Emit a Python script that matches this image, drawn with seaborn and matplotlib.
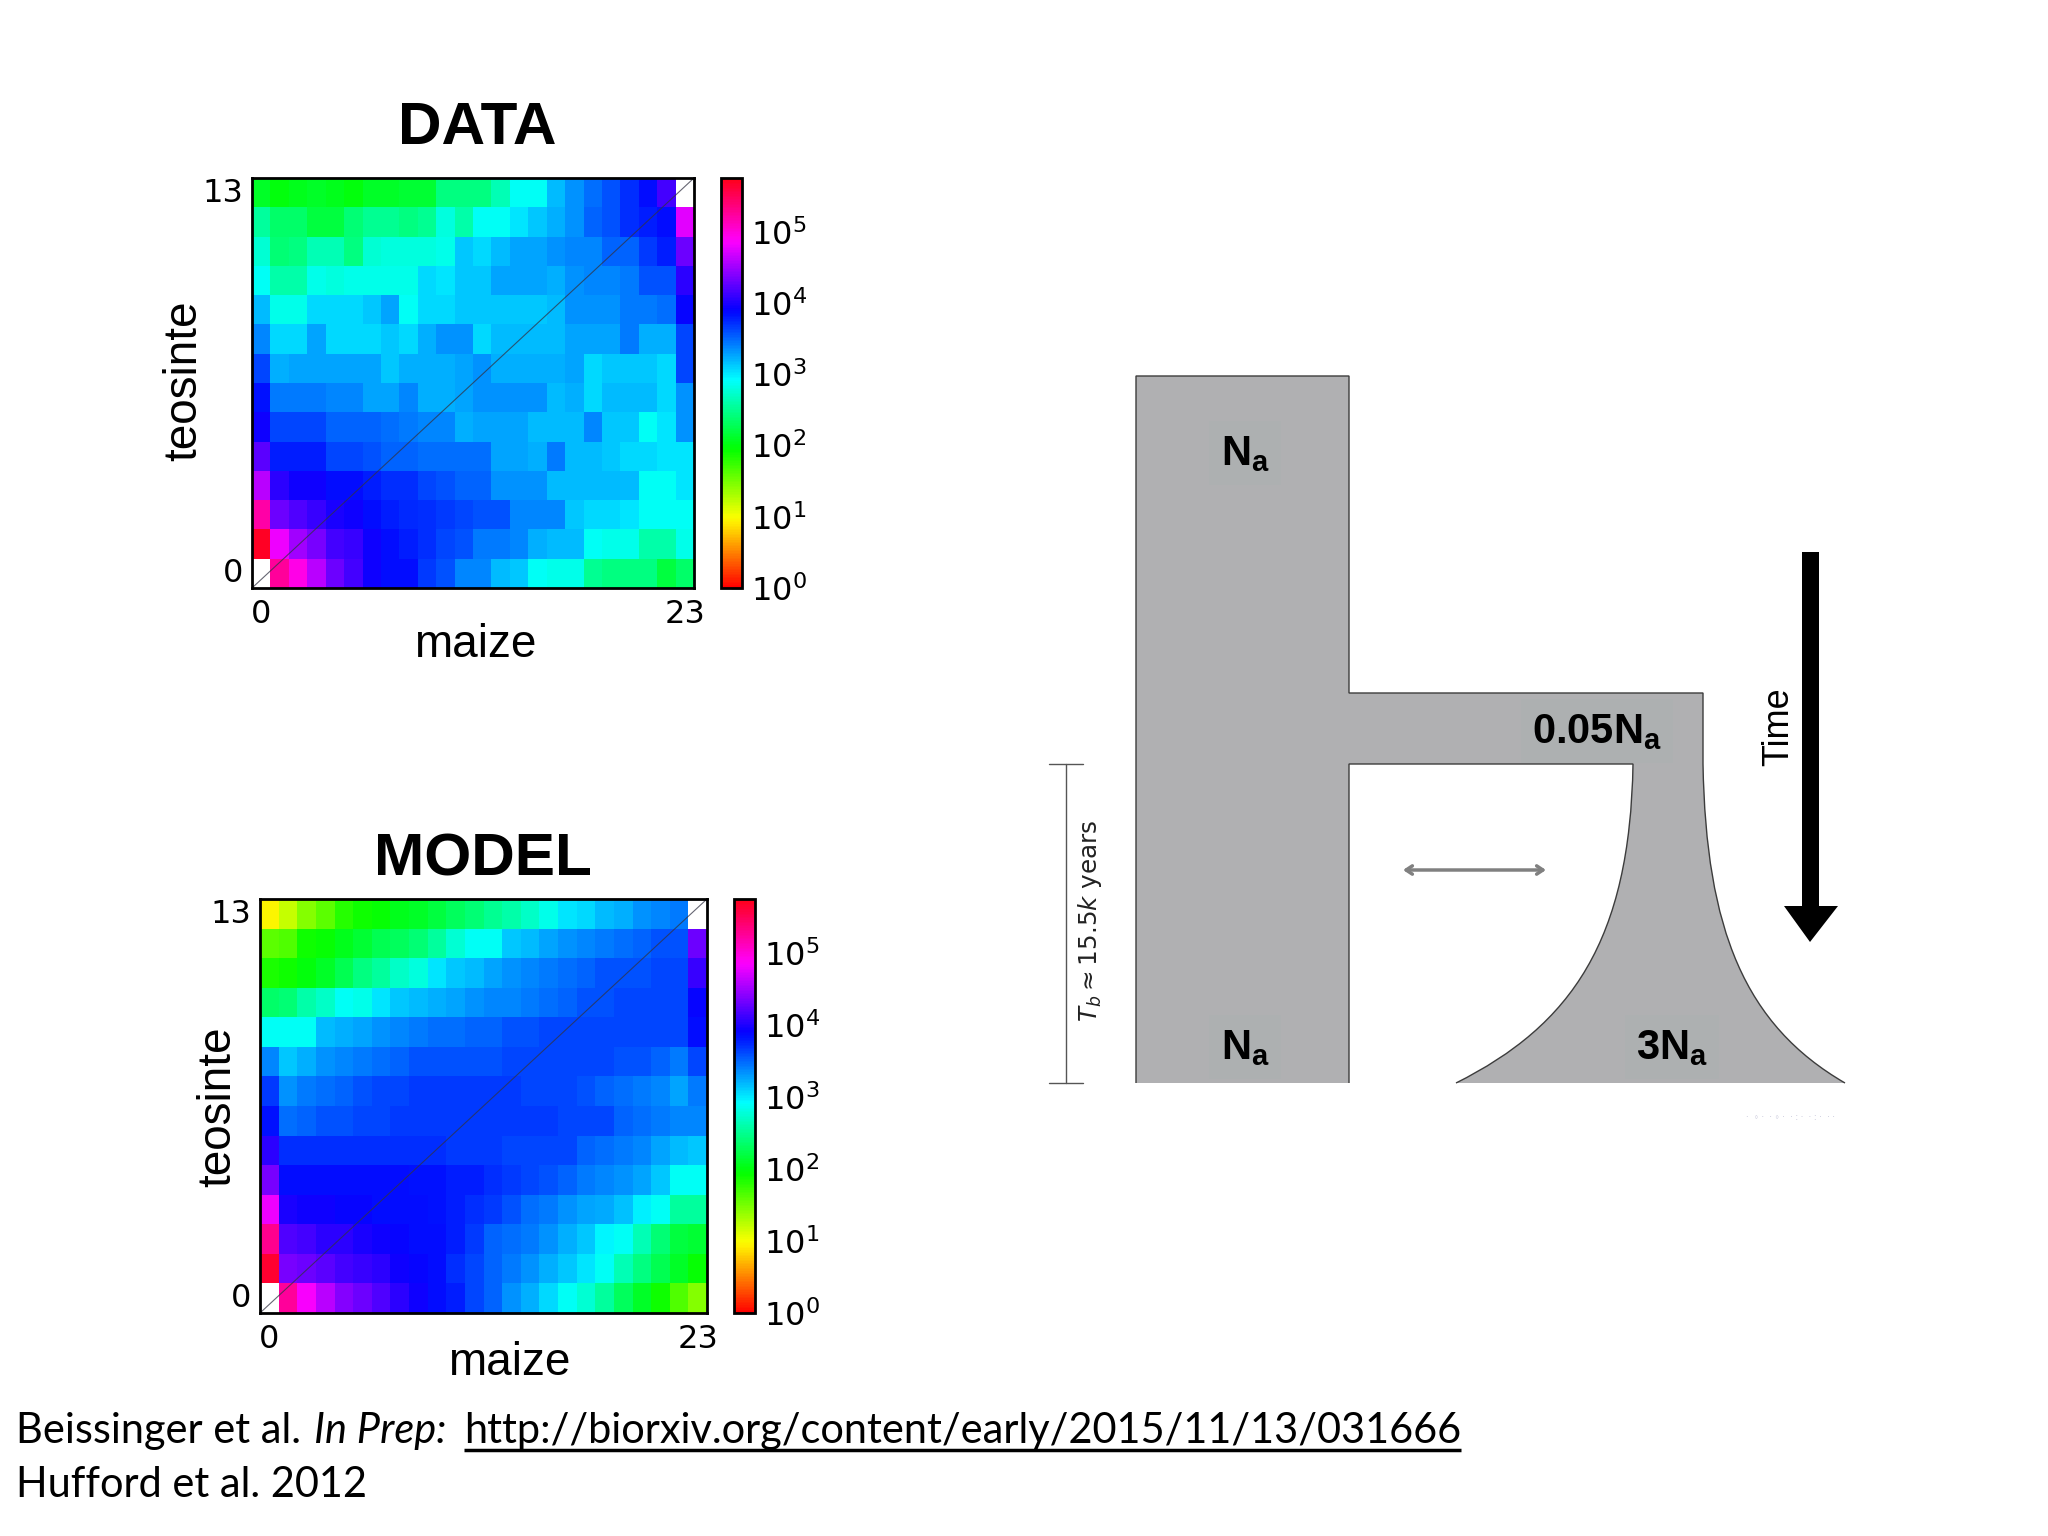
import numpy as np
import pandas as pd
import seaborn as sns
import matplotlib
matplotlib.use("Agg")
import matplotlib.pyplot as plt
from matplotlib.colors import LogNorm
from matplotlib.path import Path
from matplotlib.patches import PathPatch, Polygon

sns.set_style("white")
plt.rcParams['font.family'] = ['DejaVu Sans']
plt.rcParams['text.color'] = 'black'
plt.rcParams['axes.labelcolor'] = 'black'
plt.rcParams['mathtext.fontset'] = 'custom'
plt.rcParams['mathtext.rm'] = 'DejaVu Sans'
plt.rcParams['mathtext.bf'] = 'Liberation Sans:bold'

maize_labels = ['0', '23']
teosinte_labels = ['13', '0']
nan = np.nan

# log10 counts; rows run from teosinte 13 (top) to teosinte 0 (bottom)
data_log = [
 [2.1,2.0,2.05,2.1,2.05,2.0,2.1,2.1,2.15,2.15,2.45,2.45,2.45,2.65,2.88,2.88,3.18,3.33,3.48,3.58,3.73,3.85,4.15,nan],
 [2.55,2.35,2.35,2.2,2.2,2.4,2.5,2.5,2.45,2.5,2.8,2.6,2.88,2.9,3.03,3.13,3.23,3.33,3.53,3.58,3.73,3.8,3.85,4.75],
 [2.75,2.4,2.45,2.65,2.65,2.45,2.75,2.8,2.8,2.8,2.85,3.13,3.08,3.18,3.28,3.28,3.33,3.38,3.38,3.53,3.53,3.68,3.78,4.3],
 [2.88,2.6,2.6,2.85,2.8,2.85,2.85,2.85,2.85,3.08,3.03,3.13,3.13,3.28,3.28,3.28,3.23,3.33,3.38,3.38,3.43,3.58,3.58,4.05],
 [3.18,2.85,2.85,3.08,3.08,3.08,3.13,3.28,2.9,3.08,3.08,3.13,3.13,3.13,3.13,3.13,3.18,3.33,3.33,3.33,3.43,3.43,3.48,3.9],
 [3.38,3.08,3.08,3.28,3.08,3.08,3.08,3.13,3.08,3.23,3.33,3.33,3.08,3.18,3.18,3.18,3.18,3.28,3.28,3.28,3.43,3.23,3.23,3.63],
 [3.63,3.23,3.28,3.28,3.28,3.28,3.28,3.13,3.23,3.23,3.23,3.28,3.33,3.23,3.23,3.23,3.23,3.28,3.08,3.13,3.13,3.13,3.08,3.63],
 [3.84,3.43,3.43,3.43,3.38,3.38,3.28,3.28,3.38,3.23,3.23,3.28,3.33,3.33,3.33,3.33,3.18,3.23,3.08,3.18,3.18,3.18,3.08,3.33],
 [3.95,3.63,3.63,3.63,3.53,3.53,3.53,3.48,3.43,3.38,3.38,3.23,3.28,3.28,3.28,3.18,3.18,3.18,3.38,3.13,3.13,2.9,3.03,3.33],
 [4.25,3.8,3.8,3.8,3.63,3.63,3.58,3.53,3.53,3.48,3.48,3.48,3.48,3.28,3.28,3.23,3.43,3.18,3.18,3.13,3.08,3.08,3.03,3.03],
 [4.6,4.05,3.95,3.95,3.85,3.85,3.78,3.73,3.73,3.63,3.58,3.53,3.53,3.33,3.33,3.33,3.18,3.18,3.18,3.18,3.18,2.88,2.88,3.03],
 [5.2,4.3,4.2,4.1,4.0,3.95,3.85,3.8,3.75,3.73,3.68,3.63,3.58,3.58,3.38,3.38,3.38,3.13,3.08,3.08,3.03,2.88,2.88,2.88],
 [5.7,4.8,4.5,4.35,4.15,4.1,3.95,3.85,3.8,3.73,3.63,3.58,3.43,3.43,3.38,3.23,3.18,3.18,2.9,2.85,2.85,2.6,2.6,2.85],
 [nan,5.25,4.95,4.6,4.3,4.15,3.95,3.85,3.85,3.68,3.58,3.38,3.38,3.18,3.13,2.9,2.85,2.85,2.5,2.45,2.45,2.45,2.2,2.35],
]
model_log = [
 [0.96,1.2,1.45,1.6,1.8,1.9,1.95,2.05,2.1,2.2,2.3,2.4,2.5,2.6,2.7,2.85,3.03,3.08,3.18,3.23,3.33,3.38,3.43,nan],
 [1.6,1.65,1.9,1.95,2.05,2.15,2.25,2.3,2.4,2.55,2.75,2.88,2.9,3.13,3.18,3.28,3.33,3.38,3.43,3.48,3.53,3.58,3.58,4.3],
 [1.85,1.9,2.0,2.1,2.25,2.45,2.55,2.7,2.8,3.03,3.13,3.18,3.28,3.33,3.38,3.43,3.48,3.53,3.58,3.58,3.58,3.63,3.63,4.1],
 [2.35,2.4,2.6,2.7,2.88,2.85,3.03,3.13,3.18,3.23,3.28,3.33,3.38,3.38,3.43,3.48,3.53,3.58,3.58,3.63,3.63,3.63,3.63,3.9],
 [2.88,2.88,2.9,3.18,3.23,3.28,3.33,3.38,3.43,3.48,3.48,3.53,3.53,3.58,3.58,3.63,3.63,3.63,3.63,3.63,3.63,3.63,3.63,3.85],
 [3.38,3.13,3.23,3.33,3.38,3.43,3.48,3.53,3.58,3.58,3.58,3.58,3.58,3.63,3.63,3.63,3.63,3.63,3.63,3.58,3.58,3.53,3.43,3.63],
 [3.68,3.33,3.43,3.48,3.53,3.58,3.63,3.63,3.68,3.68,3.68,3.68,3.68,3.68,3.63,3.63,3.63,3.58,3.53,3.48,3.43,3.38,3.28,3.43],
 [3.84,3.48,3.53,3.58,3.58,3.63,3.63,3.68,3.68,3.68,3.68,3.68,3.68,3.68,3.68,3.68,3.63,3.63,3.63,3.53,3.48,3.43,3.38,3.38],
 [4.05,3.73,3.73,3.73,3.73,3.73,3.73,3.73,3.73,3.73,3.68,3.68,3.68,3.63,3.63,3.63,3.63,3.53,3.48,3.43,3.38,3.28,3.18,3.13],
 [4.35,3.85,3.85,3.85,3.85,3.85,3.85,3.85,3.83,3.83,3.78,3.78,3.73,3.68,3.63,3.58,3.53,3.43,3.38,3.33,3.28,3.13,2.88,2.88],
 [4.8,4.0,3.95,3.95,3.9,3.9,3.85,3.85,3.85,3.83,3.78,3.73,3.68,3.58,3.48,3.43,3.35,3.28,3.24,3.15,2.98,2.88,2.55,2.55],
 [5.3,4.2,4.15,4.05,4.05,4.0,3.95,3.9,3.85,3.85,3.78,3.68,3.53,3.48,3.43,3.33,3.23,3.13,2.95,2.88,2.65,2.4,2.2,2.15],
 [5.65,4.35,4.3,4.25,4.15,4.1,4.05,3.95,3.9,3.85,3.73,3.63,3.53,3.43,3.33,3.23,3.13,3.03,2.88,2.65,2.45,2.25,2.1,1.95],
 [nan,5.25,4.85,4.6,4.4,4.3,4.2,4.05,3.95,3.85,3.78,3.63,3.53,3.33,3.23,3.08,2.88,2.75,2.55,2.3,2.1,1.9,1.65,1.45],
]
diagram_labels = ['N', 'N', '0.05N', '3N']

W, H = 2048, 1536
fig = plt.figure(figsize=(W/100, H/100), dpi=100, facecolor='white')

def rect(l, t, r, b):
    return [l/W, 1-b/H, (r-l)/W, (b-t)/H]

bg = fig.add_axes([0, 0, 1, 1], zorder=0)
bg.set_xlim(0, W); bg.set_ylim(H, 0); bg.axis('off')

norm = LogNorm(vmin=1, vmax=10**5.76)

def panel(values, title, box, cbox, xlab, ylab, title_xy):
    ax = fig.add_axes(rect(*box), zorder=2)
    cax = fig.add_axes(rect(*cbox), zorder=2)
    df = pd.DataFrame(10.0**np.array(values))
    sns.heatmap(df, ax=ax, cbar_ax=cax, cmap='hsv', norm=norm,
                xticklabels=False, yticklabels=False, square=False)
    ax.set_aspect('auto')
    ax.set_position(rect(*box))
    ax.set_facecolor('white')
    ax.plot([0, 24], [14, 0], color='#333344', lw=0.8, alpha=0.75)
    ax.set_xticks([0.5, 23.5], maize_labels)
    ax.set_yticks([0.4, 13.4], teosinte_labels, rotation=0)
    ax.tick_params(axis='y', length=0, labelsize=23, pad=6, colors='black', left=True, labelleft=True)
    ax.tick_params(axis='x', length=0, labelsize=23, pad=8, colors='black', bottom=True, labelbottom=True)
    for s in ax.spines.values():
        s.set_visible(True); s.set_color('black'); s.set_linewidth(2)
    ax.set_xlabel('maize', family='Liberation Sans', fontsize=33)
    ax.set_ylabel('teosinte', family='Liberation Sans', fontsize=33)
    ax.xaxis.set_label_coords(xlab[0], xlab[1], transform=bg.transData)
    ax.yaxis.set_label_coords(ylab[0], ylab[1], transform=bg.transData)
    ax.xaxis.label.set_va('center')
    ax.yaxis.label.set_va('center')
    bg.text(title_xy[0], title_xy[1], title, family='Liberation Sans', weight='bold',
            fontsize=43.5, ha='center', va='baseline', color='black')
    cb = ax.collections[0].colorbar
    cb.ax.minorticks_off()
    cb.outline.set_visible(True); cb.outline.set_edgecolor('black'); cb.outline.set_linewidth(2)
    cb.ax.tick_params(which='major', direction='in', length=8, width=1, color='black',
                      labelsize=23, pad=6.5, right=True, labelright=True, labelcolor='black')
    return ax

panel(data_log, 'DATA', (252, 178, 694, 588), (721, 178, 742, 588), (475, 645), (184, 381), (477, 144))
panel(model_log, 'MODEL', (260, 899, 707, 1313), (734, 899, 755, 1313), (509, 1363), (218, 1107), (483, 876))

# demographic diagram
gray = '#b0b0b2'
edge = '#3c3c3c'
verts = [(1136,376),(1349,376),(1349,693),(1703,693),(1703,764),
         (1706,930),(1745,1025),(1845,1083),
         (1456,1083),
         (1572,1025),(1630,940),(1633,764),
         (1349,764),(1349,1083),(1136,1083),(1136,376)]
codes = [Path.MOVETO]+[Path.LINETO]*4+[Path.CURVE4]*3+[Path.LINETO]+[Path.CURVE4]*3+[Path.LINETO]*4
bg.add_patch(PathPatch(Path(verts, codes), facecolor=gray, edgecolor='none'))
line1 = verts[:8]; c1 = codes[:8]
bg.add_patch(PathPatch(Path([(1136,1083)]+line1, [Path.MOVETO,Path.LINETO]+c1[1:]), fill=False, edgecolor=edge, lw=1))
bg.add_patch(PathPatch(Path(verts[8:14], [Path.MOVETO]+[Path.CURVE4]*3+[Path.LINETO]*2), fill=False, edgecolor=edge, lw=1))

label_xy = [(1245, 453), (1245, 1047), (1597, 731), (1672, 1047)]
for lab, (x, y) in zip(diagram_labels, label_xy):
    bg.text(x, y, r'$\mathbf{%s_a}$' % lab, fontsize=30, ha='center', va='center', color='black',
            bbox=dict(facecolor='#adb0b1', edgecolor='none', pad=8))

bg.plot([1066, 1066], [764, 1083], color='#555555', lw=1)
bg.plot([1049, 1083], [764, 764], color='#555555', lw=1)
bg.plot([1049, 1083], [1083, 1083], color='#555555', lw=1)
bg.text(1090, 921, r'$T_b \approx 15.5k\ \mathrm{years}$', rotation=90, fontsize=17.7,
        ha='center', va='center', math_fontfamily='dejavusans', color='#222222')

bg.annotate('', xy=(1403, 870), xytext=(1546, 870),
            arrowprops=dict(arrowstyle='<->,head_length=0.45,head_width=0.3', color='#808080', lw=2.5,
                            shrinkA=0, shrinkB=0))
bg.add_patch(Polygon([(1802,552),(1819,552),(1819,906),(1838,906),(1810,942),(1784,906),(1802,906)],
                     closed=True, facecolor='black', edgecolor='none'))
bg.text(1779, 727, 'Time', rotation=90, family='Liberation Sans', fontsize=26, ha='center', va='center')
bg.text(1790, 1117, '·  ◦ ·  · ◦ ·  · : ·  · : ·  · ·', fontsize=6, color='#b8b8d0', ha='center', va='center')

# citation lines
foot = dict(family='Lato', fontsize=29.9, color='black', va='baseline')
r = fig.canvas.get_renderer()
x = 16
t = bg.text(x, 1443, 'Beissinger et al. ', **foot)
x = bg.transData.inverted().transform(t.get_window_extent(r))[1, 0] + 2
t = bg.text(x, 1443, 'In Prep:', style='italic', **foot)
x = bg.transData.inverted().transform(t.get_window_extent(r))[1, 0] + 18
t = bg.text(x, 1443, 'http://biorxiv.org/content/early/2015/11/13/031666', **foot)
x2 = bg.transData.inverted().transform(t.get_window_extent(r))[1, 0]
bg.plot([x, x2], [1450, 1450], color='black', lw=2.5, solid_capstyle='butt')
bg.text(16, 1497, 'Hufford et al. 2012', **foot)

fig.savefig('out.png', dpi=100, facecolor='white')
